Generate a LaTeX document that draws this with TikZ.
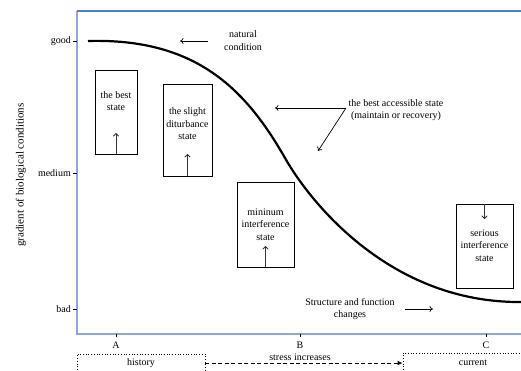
\documentclass[tikz,border=0pt]{standalone}
\usepackage{fontspec}
\setmainfont{Liberation Serif}
\usetikzlibrary{arrows.meta}
\definecolor{frameblue}{RGB}{79,125,201}
\definecolor{framelight}{RGB}{140,168,218}
\begin{document}
\begin{tikzpicture}[x=1pt,y=-1pt,
  txt/.style={font=\fontsize{10}{12.5}\selectfont,align=center,inner sep=0pt},
  statebox/.style={draw,line width=0.8pt,inner sep=0pt},
  arr/.style={-{To[length=3.5pt,width=6pt]},line width=0.7pt},
  uparr/.style={-{To[length=3.5pt,width=6pt]},line width=1pt,draw=black!80},
  framel/.style={draw=framelight,line width=1.1pt},
  frametop/.style={draw=frameblue,line width=1.1pt},
  tick/.style={line width=0.8pt},
  dotbox/.style={draw,dotted,line width=0.7pt,inner sep=0pt,font=\fontsize{10}{12}\selectfont}]
\useasboundingbox (0,0) rectangle (521,370);
\clip (0,0) rectangle (521,370);
% frame
\draw[framel] (77,11) -- (77,334) -- (521,334);
\draw[frametop] (76.5,11) -- (521,11);
% y ticks
\foreach \yy/\lab in {41/good,173/medium,309/bad}{
  \draw[tick] (73,\yy) -- (77,\yy);
  \node[txt,anchor=east] (y\lab) at (71,\yy) {\lab};
}
% x ticks
\foreach \xx/\lab in {116/A,300/B,486/C}{
  \draw[tick] (\xx,334) -- (\xx,337);
  \node[txt] (x\lab) at (\xx,345) {\lab};
}
% y axis label
\node[txt,font=\fontsize{11}{13}\selectfont,rotate=90] (ylab) at (21,175) {gradient of biological conditions};
% curve
\draw[line width=2.2pt] (88,41) .. controls (195,38) and (245,88) .. (285,158)
  .. controls (310,202) and (390,303) .. (521,302);
% state boxes
\node[statebox,minimum width=42pt,minimum height=84pt] (b1) at (116,112) {};
\node[txt] (t1) at (116,101) {the best\\state};
\coordinate (a1) at (116,133);
\draw[uparr] (b1.south) -- (a1);

\node[statebox,minimum width=49pt,minimum height=92pt] (b2) at (187.5,130) {};
\node[txt] (t2) at (187.5,124) {the slight\\diturbance\\state};
\coordinate (a2) at (187.5,154);
\draw[uparr] (b2.south) -- (a2);

\node[statebox,minimum width=57pt,minimum height=85pt] (b3) at (265.5,224.5) {};
\node[txt] (t3) at (265.5,224.5) {mininum\\interference\\state};
\coordinate (a3) at (265.5,246);
\draw[uparr] (b3.south) -- (a3);

\node[statebox,minimum width=57pt,minimum height=84pt] (b4) at (484.5,246) {};
\node[txt] (t4) at (484.5,245.5) {serious\\interference\\state};
\coordinate (a4) at (484.5,219);
\draw[uparr] (b4.north) -- (a4);
% annotations
\node[txt] (nat) at (243,40.5) {natural\\condition};
\coordinate (natE) at (180,41);
\draw[arr] ([xshift=-16pt]nat.west |- natE) -- (natE);

\node[txt] (acc) at (396,110) {the best accessible state\\(maintain or recovery)};
\coordinate (accO) at (346,108);
\coordinate (accE1) at (275,108);
\coordinate (accE2) at (318,151);
\draw[arr] (accO) -- (accE1);
\draw[arr] (accO) -- (accE2);

\node[txt] (sfc) at (350,309) {Structure and function\\changes};
\coordinate (sfcE) at (433,309);
\draw[arr] ([xshift=10pt]sfc.east |- sfcE) -- (sfcE);
% bottom
\node[dotbox,minimum width=128pt,minimum height=18pt] (hist) at (141,363) {history};
\node[dotbox,minimum width=140pt,minimum height=20pt] (cur) at (473,363) {current};
\draw[dashed,line width=0.8pt,dash pattern=on 4pt off 2.5pt,-{Latex[length=5pt,width=4.5pt]}] (hist.east) -- (cur.west);
\node[txt] (stress) at (300,357.5) {stress increases};
\end{tikzpicture}
\end{document}
